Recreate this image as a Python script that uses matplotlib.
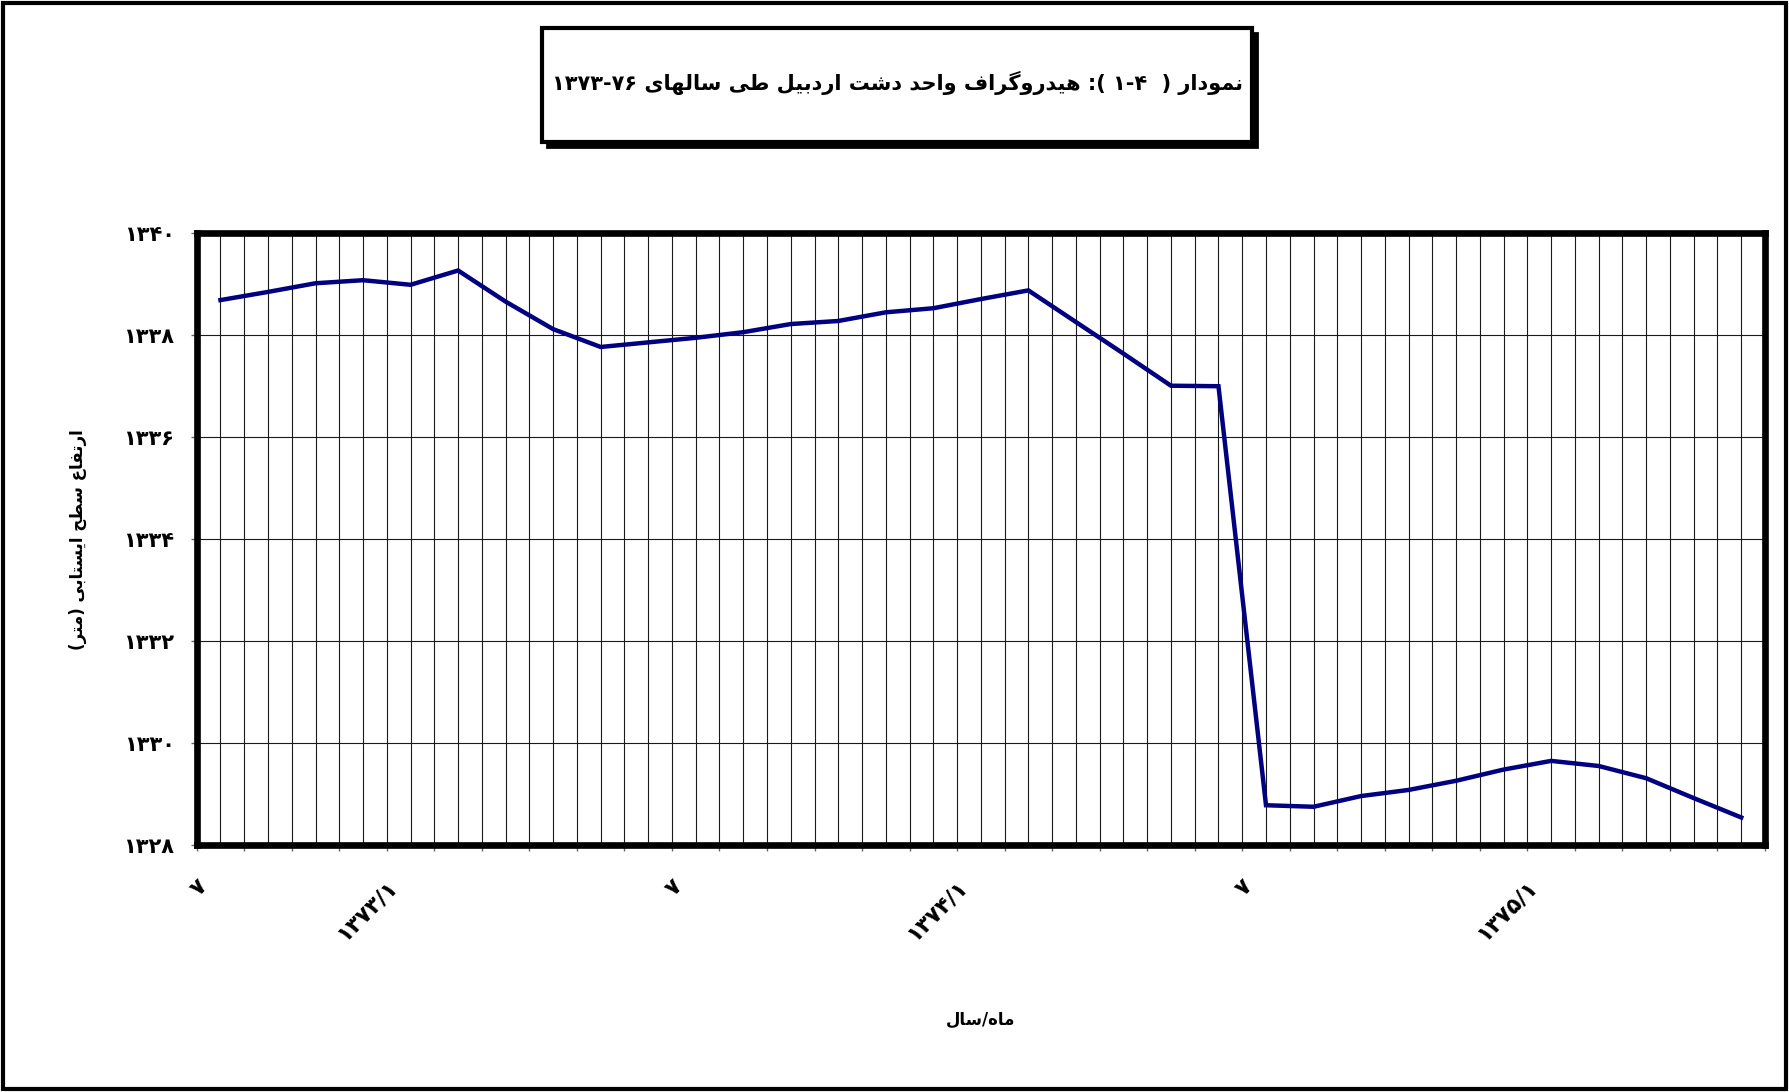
import re
import matplotlib
matplotlib.use("Agg")
import matplotlib.pyplot as plt
from matplotlib.patches import Rectangle
from matplotlib.ticker import FixedLocator, FuncFormatter

# water table level, one value per month (7/1372 .. 3/1375)
levels = [1338.69, 1338.85, 1339.02, 1339.08, 1338.99, 1339.27, 1338.66, 1338.12,
          1337.77, 1337.86, 1337.95, 1338.06, 1338.22, 1338.28, 1338.45, 1338.53,
          1338.71, 1338.88, 1338.26, 1337.64, 1337.01, 1337.00, 1328.78, 1328.75,
          1328.96, 1329.08, 1329.26, 1329.48, 1329.65, 1329.55, 1329.31, 1328.92,
          1328.54]
months = list(range(len(levels)))

# labels sit on the month boundaries
label_at = [0, 4, 10, 16, 22, 28]
label_txt = ["۷", "۱۳۷۳/۱", "۷", "۱۳۷۴/۱", "۷", "۱۳۷۵/۱"]

y_ticks = [1328, 1330, 1332, 1334, 1336, 1338, 1340]

title_txt = "نمودار (  ۱-۴ ): هیدروگراف واحد دشت اردبیل طی سالهای ۱۳۷۳-۷۶"
ylabel_txt = "ارتفاع سطح ایستابی (متر)"
xlabel_txt = "ماه/سال"

# --- minimal persian shaping (isolated, final, initial, medial) ---
FORMS = {
    'ا': ('\uFE8D', '\uFE8E', None, None),
    'ب': ('\uFE8F', '\uFE90', '\uFE91', '\uFE92'),
    'ت': ('\uFE95', '\uFE96', '\uFE97', '\uFE98'),
    'ح': ('\uFEA1', '\uFEA2', '\uFEA3', '\uFEA4'),
    'د': ('\uFEA9', '\uFEAA', None, None),
    'ر': ('\uFEAD', '\uFEAE', None, None),
    'س': ('\uFEB1', '\uFEB2', '\uFEB3', '\uFEB4'),
    'ش': ('\uFEB5', '\uFEB6', '\uFEB7', '\uFEB8'),
    'ط': ('\uFEC1', '\uFEC2', '\uFEC3', '\uFEC4'),
    'ع': ('\uFEC9', '\uFECA', '\uFECB', '\uFECC'),
    'ف': ('\uFED1', '\uFED2', '\uFED3', '\uFED4'),
    'ل': ('\uFEDD', '\uFEDE', '\uFEDF', '\uFEE0'),
    'م': ('\uFEE1', '\uFEE2', '\uFEE3', '\uFEE4'),
    'ن': ('\uFEE5', '\uFEE6', '\uFEE7', '\uFEE8'),
    'ه': ('\uFEE9', '\uFEEA', '\uFEEB', '\uFEEC'),
    'و': ('\uFEED', '\uFEEE', None, None),
    'ی': ('\uFBFC', '\uFBFD', '\uFBFE', '\uFBFF'),
    'گ': ('\uFB92', '\uFB93', '\uFB94', '\uFB95'),
}


def shape(s):
    out = []
    for i, c in enumerate(s):
        if c not in FORMS:
            out.append(c)
            continue
        f = FORMS[c]
        prev = s[i - 1] if i > 0 else ''
        nxt = s[i + 1] if i + 1 < len(s) else ''
        jp = prev in FORMS and FORMS[prev][2] is not None
        jn = f[2] is not None and nxt in FORMS
        if jp and jn:
            out.append(f[3])
        elif jp:
            out.append(f[1])
        elif jn:
            out.append(f[2])
        else:
            out.append(f[0])
    vis = ''.join(out)[::-1]
    vis = re.sub(r'[۰-۹][۰-۹/\-]*[۰-۹]|[۰-۹]', lambda m: m.group(0)[::-1], vis)
    return vis.translate(str.maketrans('()', ')('))


fa_digits = str.maketrans('0123456789', '۰۱۲۳۴۵۶۷۸۹')

W, H = 1789, 1092
plt.rcParams['font.family'] = ['DejaVu Sans']
fig = plt.figure(figsize=(W / 100, H / 100), dpi=100)
ax = fig.add_axes([196.7 / W, 1 - 845 / H, (1765 - 196.7) / W, (845 - 233.3) / H])

ax.plot(months, levels, color='#000080', lw=3.2, solid_joinstyle='miter', zorder=3)

ax.set_xlim(-0.5, len(levels) - 0.5)
ax.set_ylim(y_ticks[0], y_ticks[-1])

bounds = [m - 0.5 for m in range(len(levels) + 1)]
ax.xaxis.set_major_locator(FixedLocator(bounds))
ax.xaxis.set_minor_locator(FixedLocator(months))
lab = [''] * len(bounds)
for i, t in zip(label_at, label_txt):
    lab[i] = t
ax.set_xticklabels(lab, rotation=45, ha='right', va='top', rotation_mode='anchor',
                   fontsize=16, fontweight='bold')
ax.set_yticks(y_ticks)
ax.yaxis.set_major_formatter(FuncFormatter(lambda v, p: str(int(round(v))).translate(fa_digits)))
for t in ax.get_yticklabels():
    t.set_fontsize(15)
    t.set_fontweight('bold')

ax.grid(True, which='major', axis='both', color='#1a1a1a', lw=0.8)
ax.grid(True, which='minor', axis='x', color='#1a1a1a', lw=0.8)
ax.set_axisbelow(True)
ax.tick_params(axis='x', which='major', length=4.5, width=1, color='#666666', pad=18)
ax.tick_params(axis='x', which='minor', length=0)
ax.tick_params(axis='y', length=4, width=1, color='#666666', pad=12)
for sp in ax.spines.values():
    sp.set_linewidth(4.8)
    sp.set_color('black')

ax.set_ylabel(shape(ylabel_txt), fontsize=12, fontweight='bold', va='center')
ax.yaxis.set_label_coords(-0.076, 0.5)
ax.set_xlabel(shape(xlabel_txt), fontsize=12, fontweight='bold', va='center')
ax.xaxis.set_label_coords(0.5, -0.286)


# title box with shadow
def fx(x):
    return x / W


def fy(y):
    return 1 - y / H


bx0, bx1, by0, by1 = 542, 1252, 28, 142
fig.add_artist(Rectangle((fx(bx0 + 5), fy(by1 + 5)), fx(bx1 - bx0), (by1 - by0) / H,
                         transform=fig.transFigure, facecolor='black', edgecolor='black', lw=2,
                         zorder=1))
fig.add_artist(Rectangle((fx(bx0), fy(by1)), fx(bx1 - bx0), (by1 - by0) / H,
                         transform=fig.transFigure, facecolor='white', edgecolor='black', lw=3,
                         zorder=1))
fig.text(fx((bx0 + bx1) / 2), fy(83), shape(title_txt), ha='center', va='center',
         fontsize=15, fontweight='bold', zorder=5)

# outer frame
fig.add_artist(Rectangle((fx(3), fy(H - 3)), fx(W - 6), (H - 6) / H, transform=fig.transFigure,
                         facecolor='none', edgecolor='black', lw=3))

fig.savefig('out.png', dpi=100)
